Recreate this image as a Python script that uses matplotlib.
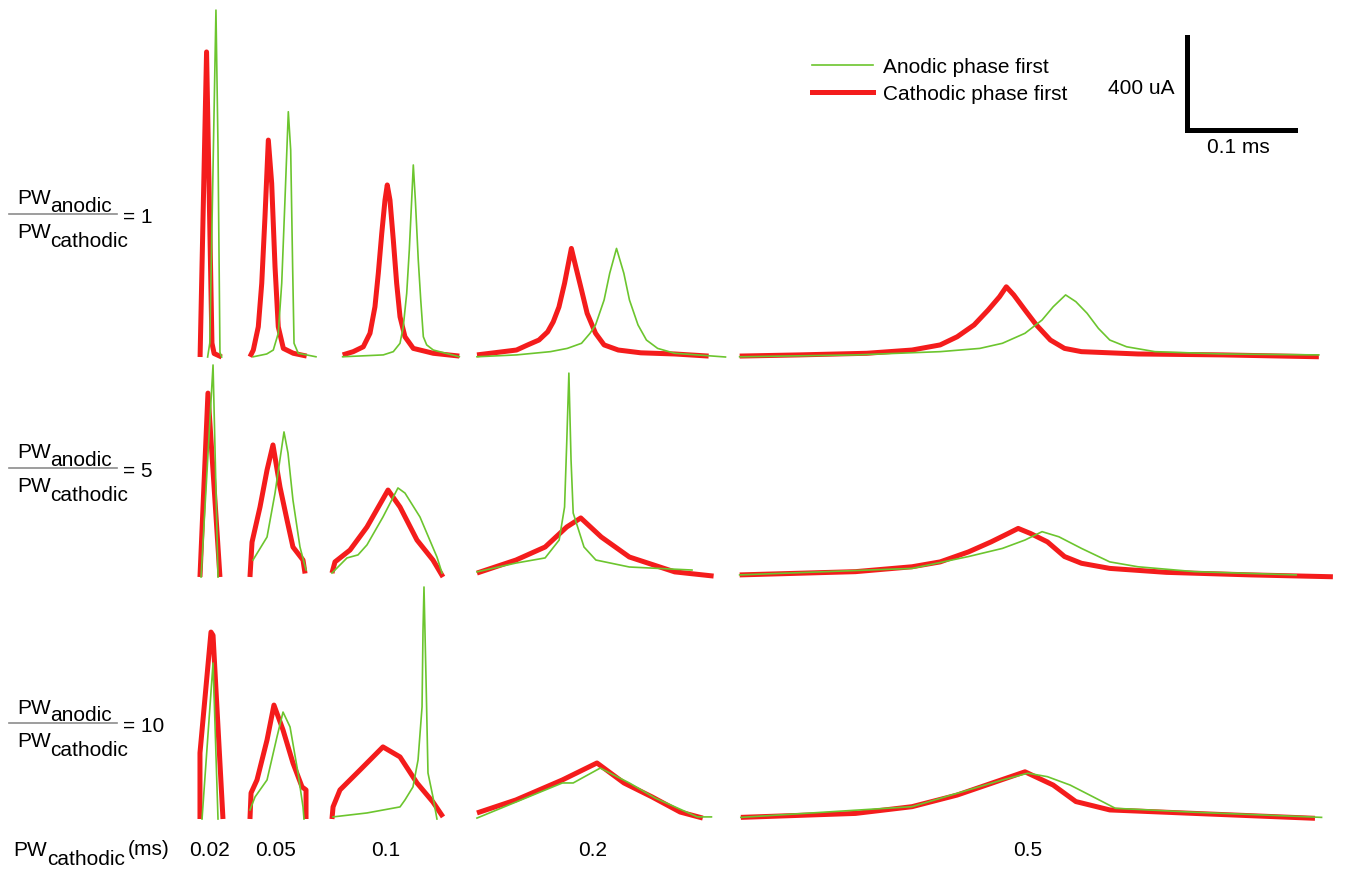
import matplotlib.pyplot as plt
from matplotlib.lines import Line2D

plt.rcParams['font.family'] = ['Liberation Sans', 'DejaVu Sans']

GREEN = '#6cc52e'
RED = '#f41c1c'

ratio_labels = ['1', '5', '10']
pw_labels = ['0.02', '0.05', '0.1', '0.2', '0.5']

# time (us, from the start of each trace) and current (uA)
# ---- ratio 1 ----
r1_p02_cath_t = [1, 7, 12, 14, 21]
r1_p02_cath_i = [0, 1312, 60, 15, 0]
r1_p02_anod_t = [8, 10, 15.7, 17.6, 19.4, 21]
r1_p02_anod_i = [0, 60, 1492, 900, 20, 0]

r1_p05_cath_t = [0.9, 4, 8.6, 11.8, 14.8, 17.9, 21, 24.1, 27.1, 31.8, 41, 53.4]
r1_p05_cath_i = [1, 30, 130, 317, 603, 933, 747, 388, 130, 37, 16, 4]
r1_p05_anod_t = [4, 16.4, 22.5, 27.1, 30.3, 33.3, 36.4, 38.6, 40.4, 41.7, 45.6, 62]
r1_p05_anod_i = [1, 13, 30, 102, 317, 675, 1055, 890, 388, 59, 16, 1]

r1_p1_cath_t = [10.8, 20.6, 29.9, 36.1, 40.7, 43.8, 47, 50, 52.1, 54.6, 57.7, 60.8, 63.9,
                68.5, 76.2, 94.7, 118.8]
r1_p1_cath_i = [9, 23, 44, 102, 216, 360, 532, 675, 740, 675, 503, 317, 173, 87, 37, 16, 4]
r1_p1_anod_t = [10.8, 48.4, 57.7, 63.9, 66.9, 70.1, 72.5, 74.7, 76.2, 78.1, 80.8, 83.1, 85.5,
                88.6, 94.7, 118.8]
r1_p1_anod_i = [1, 9, 23, 59, 130, 274, 460, 675, 826, 675, 417, 245, 87, 52, 30, 1]

r1_p2_cath_t = [0.9, 16.7, 37.5, 47.9, 58.3, 66.3, 71.5, 76.8, 82.0, 85.6, 88.3, 92.4, 97.7,
                102.9, 110.7, 118.6, 131.7, 152.6, 184.0, 215.4]
r1_p2_cath_i = [9, 18, 30, 52, 73, 108, 151, 215, 317, 403, 467, 388, 288, 188, 102, 52, 30,
                18, 13, 4]
r1_p2_anod_t = [0.9, 37.5, 68.9, 84.5, 97.7, 105.6, 110.7, 118.6, 123.8, 130.1, 136.9, 142.1,
                150, 157.8, 168.2, 184, 231]
r1_p2_anod_i = [1, 9, 23, 37, 59, 102, 138, 245, 360, 467, 360, 245, 138, 73, 37, 16, 0]

r1_p5_cath_t = [0.6, 55.6, 118.3, 160.2, 186.3, 202.0, 217.7, 230.7, 241.2, 247.5, 254.4,
                264.8, 275.3, 288.3, 301.4, 317.1, 369.4, 447.9, 536.9]
r1_p5_cath_i = [4, 9, 16, 30, 52, 87, 138, 202, 259, 302, 267, 202, 138, 73, 37, 23, 13, 9, 1]
r1_p5_anod_t = [0.6, 107.9, 186.3, 223, 243.9, 264.8, 280.6, 290.9, 302.4, 311.9, 322.3,
                332.8, 343.3, 358.9, 385.1, 447.9, 536.9]
r1_p5_anod_i = [1, 9, 23, 37, 59, 102, 159, 216, 267, 238, 188, 123, 73, 44, 23, 13, 9]

# ---- ratio 5 ----
r5_p02_cath_t = [0.9, 8.3, 19.4]
r5_p02_cath_i = [0, 791, 0]
r5_p02_anod_t = [1.9, 13, 17.6]
r5_p02_anod_i = [0, 912, 0]

r5_p05_cath_t = [0.9, 2.8, 10.2, 16.7, 22.2, 28.7, 35.2, 40.7, 50, 51.9]
r5_p05_cath_i = [0, 150, 301, 460, 568, 387, 245, 129, 73, 15]
r5_p05_anod_t = [3.7, 16.7, 24.1, 32.4, 36.1, 40.7, 47.2, 52.8]
r5_p05_anod_i = [73, 172, 361, 624, 533, 331, 129, 30]

r5_p1_cath_t = [0.9, 3.7, 17.6, 33.3, 52.8, 63.9, 79.6, 94.4, 103.7]
r5_p1_cath_i = [17, 65, 116, 215, 374, 301, 159, 73, 0]
r5_p1_anod_t = [0.9, 14.8, 25, 33.3, 48.1, 62, 68.5, 82.4, 98.1, 102.8]
r5_p1_anod_i = [17, 82, 95, 138, 258, 383, 361, 258, 86, 17]

r5_p2_cath_t = [0.9, 37, 64, 84, 97, 116, 142, 184, 220]
r5_p2_cath_i = [17, 73, 129, 215, 254, 172, 86, 22, 4]
r5_p2_anod_t = [0.9, 37, 64, 77, 82, 84, 86, 88, 90, 100, 111, 142, 200]
r5_p2_anod_i = [22, 60, 82, 159, 301, 576, 877, 504, 275, 129, 73, 43, 30]

r5_p5_cath_t = [0.6, 107.9, 160.2, 186.3, 212.5, 233.4, 249.1, 258.5, 270, 285.6, 301.4,
                317.1, 343.3, 395.6, 474.1, 549.9]
r5_p5_cath_i = [9, 23, 44, 65, 108, 151, 187, 209, 187, 151, 88, 59, 37, 20, 9, 1]
r5_p5_anod_t = [0.6, 160.2, 212.5, 243.9, 264.8, 280.6, 296.2, 317.1, 343.3, 369.4, 421.8,
                515.9]
r5_p5_anod_i = [9, 37, 88, 123, 159, 195, 173, 123, 65, 44, 23, 9]

# ---- ratio 10 ----
r10_p02_cath_t = [0.9, 0.9, 11.1, 13, 22.2]
r10_p02_cath_i = [0, 284, 804, 790, 0]
r10_p02_anod_t = [2.8, 13, 17.6]
r10_p02_anod_i = [0, 671, 0]

r10_p05_cath_t = [0.9, 1.9, 7.4, 16.7, 23.1, 31.5, 40.7, 49.1, 52.8, 52.8]
r10_p05_cath_i = [0, 112, 168, 340, 490, 383, 241, 138, 125, 0]
r10_p05_anod_t = [0.9, 5.6, 16.7, 25.9, 31.5, 38, 45.4, 50, 50.9]
r10_p05_anod_i = [39, 95, 168, 353, 460, 396, 198, 52, 0]

r10_p1_cath_t = [0.9, 1.9, 8.3, 26.9, 48.1, 63.9, 79.6, 94.4, 103.7]
r10_p1_cath_i = [0, 52, 125, 211, 310, 267, 155, 73, 9]
r10_p1_anod_t = [1.9, 33.3, 63.9, 68.5, 75.9, 80.6, 84.3, 85.2, 86.1, 88, 89.8, 94.4, 98.1]
r10_p1_anod_i = [9, 26, 52, 82, 138, 254, 482, 813, 998, 598, 198, 95, 0]

r10_p2_cath_t = [0.9, 37, 80, 112, 137, 163, 189, 210]
r10_p2_cath_i = [26, 82, 168, 241, 155, 95, 30, 4]
r10_p2_anod_t = [0.9, 37, 80, 90, 115, 142, 166, 205, 218]
r10_p2_anod_i = [4, 73, 155, 155, 219, 155, 90, 9, 9]

r10_p5_cath_t = [1.7, 107.9, 160.2, 202, 233.4, 264.8, 290.9, 311.9, 343.3, 421.8, 533.3]
r10_p5_cath_i = [7, 24, 53, 103, 153, 203, 146, 75, 39, 24, 3]
r10_p5_anod_t = [1.7, 160.2, 212.5, 243.9, 267.4, 285.6, 306.6, 327.6, 348.5, 421.8, 539.4]
r10_p5_anod_i = [7, 53, 125, 168, 197, 182, 146, 96, 46, 29, 7]

cathodic = [
    [(r1_p02_cath_t, r1_p02_cath_i), (r1_p05_cath_t, r1_p05_cath_i), (r1_p1_cath_t, r1_p1_cath_i),
     (r1_p2_cath_t, r1_p2_cath_i), (r1_p5_cath_t, r1_p5_cath_i)],
    [(r5_p02_cath_t, r5_p02_cath_i), (r5_p05_cath_t, r5_p05_cath_i), (r5_p1_cath_t, r5_p1_cath_i),
     (r5_p2_cath_t, r5_p2_cath_i), (r5_p5_cath_t, r5_p5_cath_i)],
    [(r10_p02_cath_t, r10_p02_cath_i), (r10_p05_cath_t, r10_p05_cath_i), (r10_p1_cath_t, r10_p1_cath_i),
     (r10_p2_cath_t, r10_p2_cath_i), (r10_p5_cath_t, r10_p5_cath_i)],
]
anodic = [
    [(r1_p02_anod_t, r1_p02_anod_i), (r1_p05_anod_t, r1_p05_anod_i), (r1_p1_anod_t, r1_p1_anod_i),
     (r1_p2_anod_t, r1_p2_anod_i), (r1_p5_anod_t, r1_p5_anod_i)],
    [(r5_p02_anod_t, r5_p02_anod_i), (r5_p05_anod_t, r5_p05_anod_i), (r5_p1_anod_t, r5_p1_anod_i),
     (r5_p2_anod_t, r5_p2_anod_i), (r5_p5_anod_t, r5_p5_anod_i)],
    [(r10_p02_anod_t, r10_p02_anod_i), (r10_p05_anod_t, r10_p05_anod_i), (r10_p1_anod_t, r10_p1_anod_i),
     (r10_p2_anod_t, r10_p2_anod_i), (r10_p5_anod_t, r10_p5_anod_i)],
]

# ------------------------------------------------------------
# layout (pixels on the 1345 x 869 canvas)
# ------------------------------------------------------------
W, H = 1345, 869
PX_PER_US = 1.08
PX_PER_UA = 0.2325

col_px = [199, 249, 331, 476, 739]      # left edge of each pulse-width column
col_label_px = [210, 276, 386, 593, 1028]
row_base_px = [357, 577, 819]           # zero-current line of each ratio row
frac_line_px = [214, 468, 723]


def fx(x):
    return x / W


def fy(y):
    return 1 - y / H


fig = plt.figure(figsize=(W / 100, H / 100), dpi=100)
ax = fig.add_axes([0, 0, 1, 1])
ax.set_xlim(0, W / PX_PER_US)
ax.set_ylim(0, H / PX_PER_UA)
ax.axis('off')

for r in range(3):
    y0 = (H - row_base_px[r]) / PX_PER_UA
    for c in range(5):
        x0 = col_px[c] / PX_PER_US
        t, i = cathodic[r][c]
        ax.plot([x0 + v for v in t], [y0 + v for v in i], color=RED, lw=3.6,
                solid_joinstyle='round', solid_capstyle='butt')
        t, i = anodic[r][c]
        ax.plot([x0 + v for v in t], [y0 + v for v in i], color=GREEN, lw=1.2,
                solid_joinstyle='round')

# scale bar: 400 uA / 0.1 ms
sb_x = 1187 / PX_PER_US
sb_y = (H - 130) / PX_PER_UA
ax.plot([sb_x, sb_x, sb_x + 100], [sb_y + 400, sb_y, sb_y], color='black', lw=3.6,
        solid_joinstyle='miter', solid_capstyle='projecting')
fig.text(fx(1175), fy(94), '400 uA', fontsize=15, ha='right', va='baseline')
fig.text(fx(1238), fy(153), '0.1 ms', fontsize=15, ha='center', va='baseline')

# legend
fig.add_artist(Line2D([fx(812), fx(873)], [fy(65), fy(65)], color=GREEN, lw=1.2))
fig.add_artist(Line2D([fx(812), fx(873)], [fy(92), fy(92)], color=RED, lw=3.6))
fig.text(fx(883), fy(73), 'Anodic phase first', fontsize=15, va='baseline')
fig.text(fx(883), fy(100), 'Cathodic phase first', fontsize=15, va='baseline')

# ratio labels
for r, lab in enumerate(ratio_labels):
    L = frac_line_px[r]
    fig.text(fx(17), fy(L - 9.5), 'PW', fontsize=15, va='baseline')
    fig.text(fx(50), fy(L - 2), 'anodic', fontsize=15, va='baseline')
    fig.add_artist(Line2D([fx(9), fx(117)], [fy(L), fy(L)], color='#8c8c8c', lw=1.2))
    fig.text(fx(17), fy(L + 24), 'PW', fontsize=15, va='baseline')
    fig.text(fx(50), fy(L + 33), 'cathodic', fontsize=15, va='baseline')
    fig.text(fx(123), fy(L + 9), '= ' + lab, fontsize=15, va='baseline')

# pulse-width axis labels
fig.text(fx(13), fy(856), 'PW', fontsize=15, va='baseline')
fig.text(fx(47), fy(865), 'cathodic', fontsize=15, va='baseline')
fig.text(fx(128), fy(855), '(ms)', fontsize=15, va='baseline')
for c, lab in enumerate(pw_labels):
    fig.text(fx(col_label_px[c]), fy(856), lab, fontsize=15, ha='center', va='baseline')

fig.savefig('out.png', dpi=100, facecolor='white')
